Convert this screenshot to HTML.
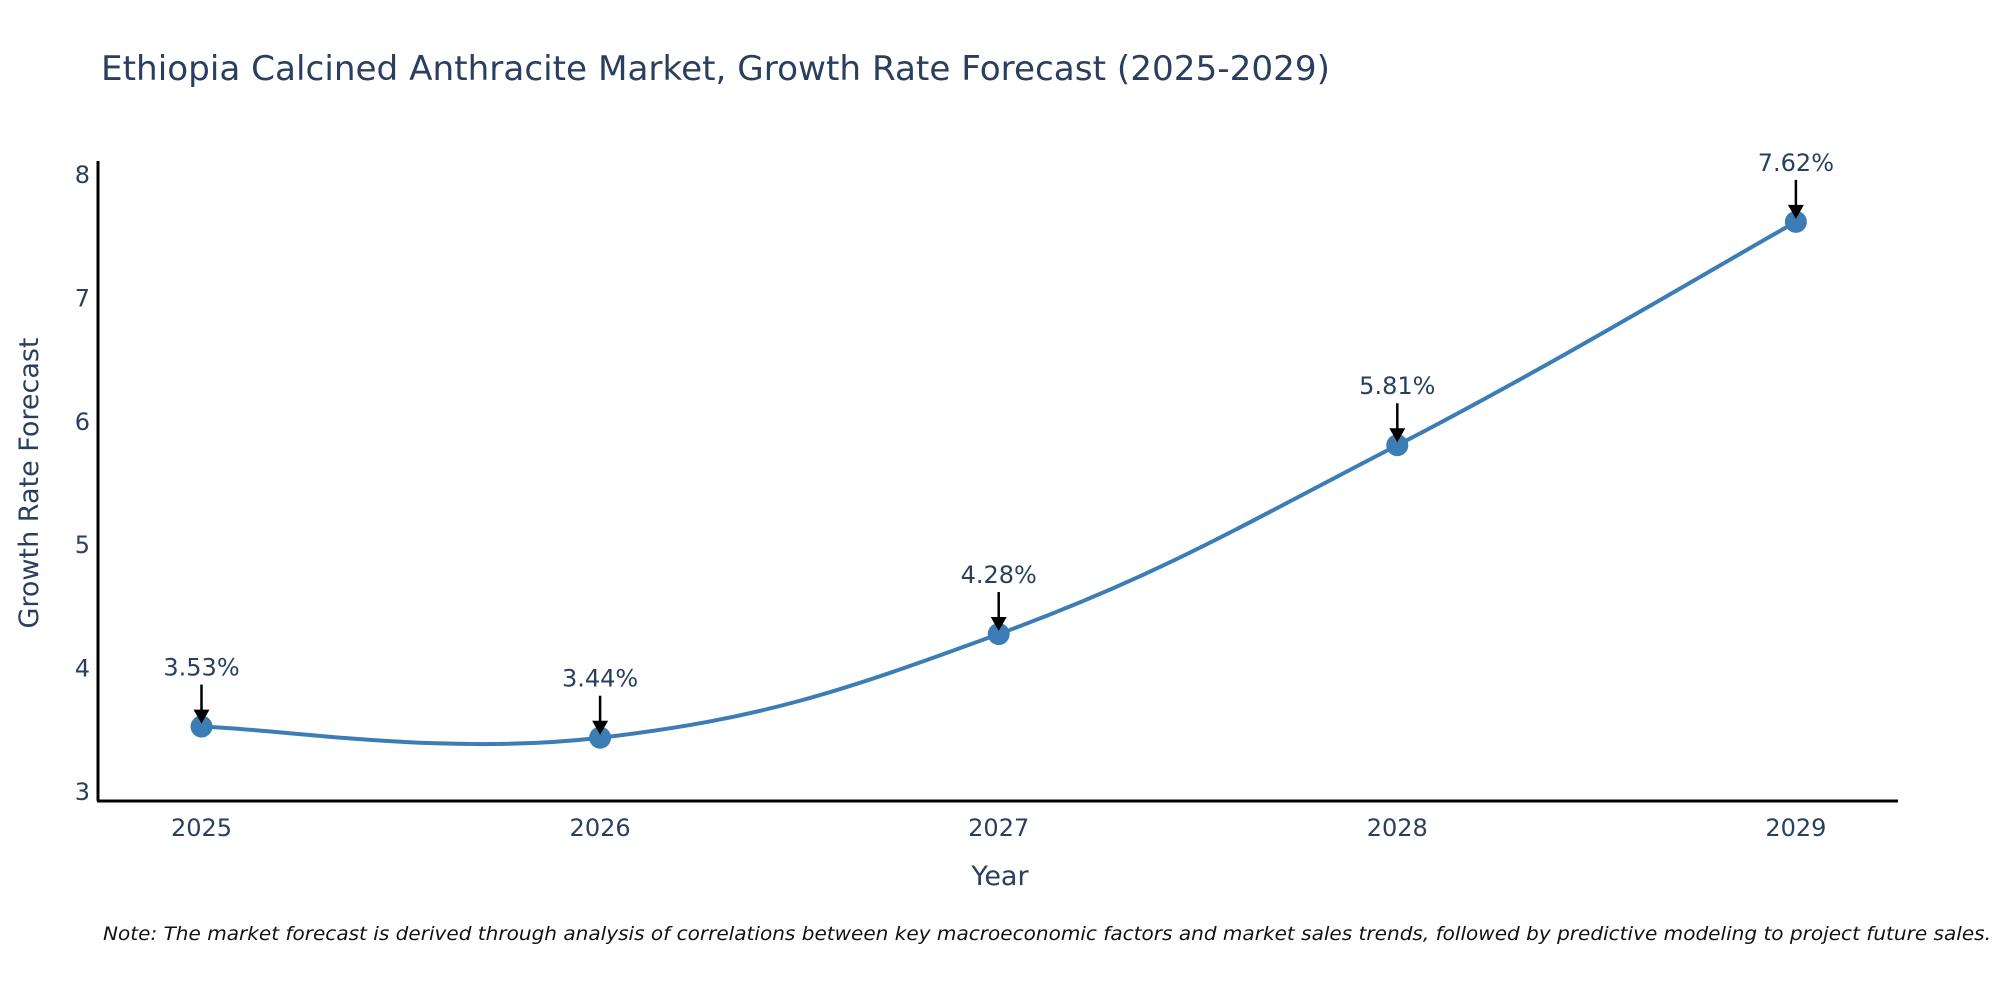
<!DOCTYPE html>
<html><head><meta charset="utf-8"><style>
body{margin:0;background:#fff;font-family:"DejaVu Sans","Liberation Sans",sans-serif;}
svg text{font-family:"DejaVu Sans","Liberation Sans",sans-serif;fill:#2a3f5f;}
</style></head><body>
<svg id="chart" width="2000" height="1000" xmlns="http://www.w3.org/2000/svg">
<text x="101" y="80" font-size="34" textLength="1229" lengthAdjust="spacingAndGlyphs">Ethiopia Calcined Anthracite Market, Growth Rate Forecast (2025-2029)</text>
<g id="plot"></g>
<text x="1000" y="885" font-size="27" text-anchor="middle">Year</text>
<text transform="translate(38,483) rotate(-90)" font-size="27" text-anchor="middle">Growth Rate Forecast</text>
<text x="103" y="940" font-size="19" font-style="italic" textLength="1888" lengthAdjust="spacingAndGlyphs" style="fill:#111">Note: The market forecast is derived through analysis of correlations between key macroeconomic factors and market sales trends, followed by predictive modeling to project future sales.</text>
</svg>
<script>
const years=[2025,2026,2027,2028,2029];
const values=[3.53,3.44,4.28,5.81,7.62];
const yTicks=[3,4,5,6,7,8];
const labels=["3.53%","3.44%","4.28%","5.81%","7.62%"];
const NS="http://www.w3.org/2000/svg";
const g=document.getElementById('plot');
function xs(v){return 201.5+(v-2025)*398.6;}
function ys(v){return 792-(v-3)*123.4;}
function mk(t,a){const e=document.createElementNS(NS,t);for(const k in a)e.setAttribute(k,a[k]);g.appendChild(e);return e;}
let ax=mk('line',{x1:98,y1:161,x2:98,y2:801,stroke:'#000','stroke-width':3});


let bx=mk('line',{x1:97,y1:801,x2:1898,y2:801,stroke:'#000','stroke-width':3});


yTicks.forEach(t=>{const e=mk('text',{x:90,y:ys(t)+8,'font-size':24,'text-anchor':'end'});e.textContent=t;

});
years.forEach(t=>{const e=mk('text',{x:xs(t),y:836,'font-size':24,'text-anchor':'middle'});e.textContent=t;

});
const P=years.map((y,i)=>[xs(y),ys(values[i])]);
let d=`M${P[0][0]},${P[0][1]}`;const s=0.2;
for(let i=0;i<P.length-1;i++){const p0=P[Math.max(0,i-1)],p1=P[i],p2=P[i+1],p3=P[Math.min(P.length-1,i+2)];
const c1=[p1[0]+(p2[0]-p0[0])*s,p1[1]+(p2[1]-p0[1])*s],c2=[p2[0]-(p3[0]-p1[0])*s,p2[1]-(p3[1]-p1[1])*s];
d+=` C${c1[0]},${c1[1]} ${c2[0]},${c2[1]} ${p2[0]},${p2[1]}`;}
const ln=mk('path',{d:d,fill:'none',stroke:'#3b7db4','stroke-width':4});


P.forEach((p,i)=>{const c=mk('circle',{cx:p[0],cy:p[1],r:11,fill:'#3b7db4'});


const a=mk('line',{x1:p[0],y1:p[1]-42,x2:p[0],y2:p[1]-14,stroke:'#000','stroke-width':2.5});


const h=mk('polygon',{points:`${p[0]-8},${p[1]-17} ${p[0]+8},${p[1]-17} ${p[0]},${p[1]-3}`,fill:'#000'});


const t=mk('text',{x:p[0],y:p[1]-51,'font-size':24,'text-anchor':'middle'});t.textContent=labels[i];

});
</script>
</body></html>
